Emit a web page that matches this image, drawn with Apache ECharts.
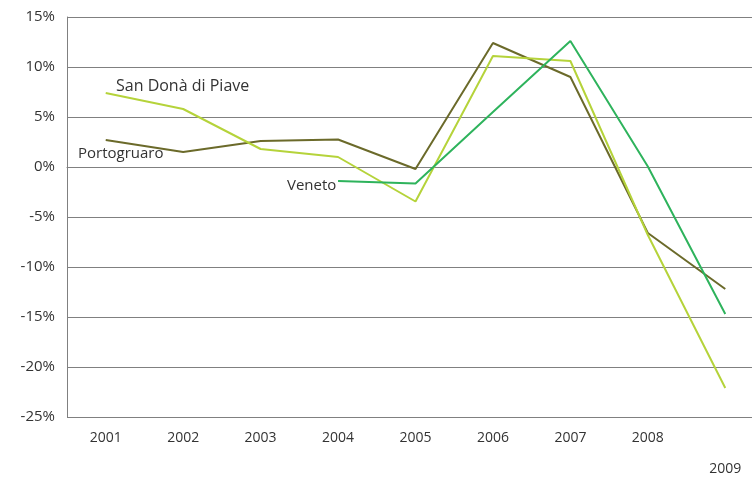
<!DOCTYPE html>
<html><head><meta charset="utf-8">
<script src="https://cdn.jsdelivr.net/npm/echarts@6/dist/echarts.min.js"></script>
<style>html,body{margin:0;padding:0;background:#fff}#c{width:752px;height:478px}</style>
</head><body><div id="c"></div>
<script>
const years = ['2001','2002','2003','2004','2005','2006','2007','2008','2009'];
const portogruaro = [2.7, 1.5, 2.6, 2.75, -0.2, 12.4, 9.0, -6.6, -12.2];
const sanDona = [7.4, 5.8, 1.8, 1.0, -3.45, 11.1, 10.6, -6.8, -22.1];
const veneto = [null, null, null, -1.4, -1.65, 5.5, 12.6, 0.05, -14.7];
const yTicks = {min: -25, max: 15, step: 5};

const font = '"Open Sans", "DejaVu Sans", sans-serif';
const chart = echarts.init(document.getElementById('c'));
chart.setOption({
  animation: false,
  grid: {left: 67, right: -12, top: 17, bottom: 61, containLabel: false, outerBoundsMode: 'none'},
  xAxis: {
    type: 'category', data: years, boundaryGap: true,
    axisLine: {lineStyle: {color: '#808080', width: 1}},
    axisTick: {alignWithLabel: true, length: 5, lineStyle: {color: '#999'}},
    axisLabel: {
      margin: 14, color: '#333', fontSize: 14, fontFamily: font, interval: 0,
      formatter: v => v === '2009' ? '{l|' + v + '}' : v,
      rich: {l: {padding: [31, 0, 0, 0], color: '#333', fontSize: 14, fontFamily: font}}
    }
  },
  yAxis: {
    type: 'value', min: yTicks.min, max: yTicks.max, interval: yTicks.step,
    axisLine: {show: true, lineStyle: {color: '#808080'}},
    axisTick: {show: false},
    axisLabel: {margin: 12, color: '#333', fontSize: 15, fontFamily: font, formatter: v => v + '%'},
    splitLine: {lineStyle: {color: '#808080', width: 1}}
  },
  series: [
    {name: 'Portogruaro', type: 'line', data: portogruaro, symbol: 'none', lineStyle: {color: '#6b6a2a', width: 2}},
    {name: 'San Donà di Piave', type: 'line', data: sanDona, symbol: 'none', lineStyle: {color: '#b5d33a', width: 2}},
    {name: 'Veneto', type: 'line', data: veneto, symbol: 'none', lineStyle: {color: '#2eb35c', width: 2}}
  ],
  graphic: [
    {type: 'text', left: 116, top: 78, style: {text: 'San Donà di Piave', fontSize: 16, fontFamily: font, fill: '#333'}},
    {type: 'text', left: 78, top: 146, style: {text: 'Portogruaro', fontSize: 15, fontFamily: font, fill: '#333'}},
    {type: 'text', left: 287, top: 178, style: {text: 'Veneto', fontSize: 15, fontFamily: font, fill: '#333'}}
  ]
});
</script></body></html>
